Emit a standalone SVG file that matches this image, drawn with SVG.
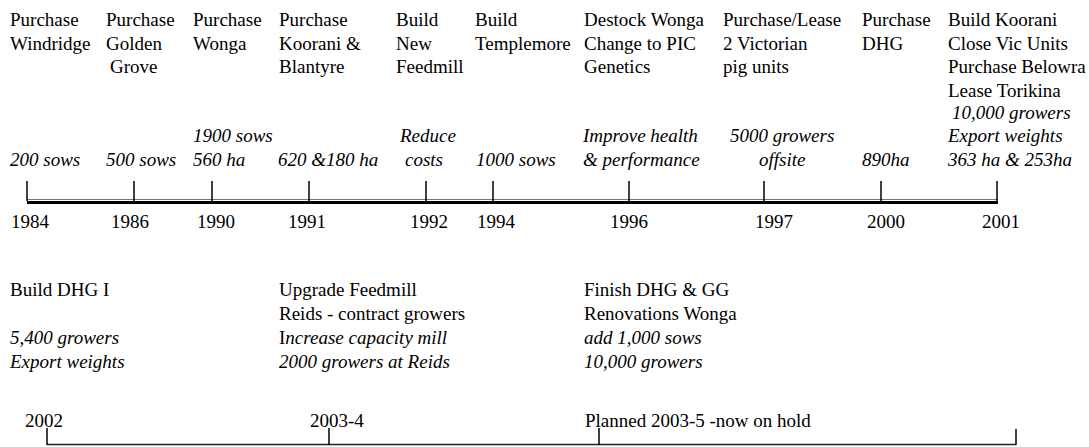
<svg xmlns="http://www.w3.org/2000/svg" width="1089" height="447" viewBox="0 0 1089 447">
<style>
text{font-family:'Liberation Serif',Tinos,'Times New Roman',Times,'DejaVu Serif',serif;font-size:19px;fill:#000}
.i{font-style:italic}
.tick{stroke:#000;stroke-width:1.5}
.axis{stroke:#000;stroke-width:3}
.axis2{stroke:#777;stroke-width:1}
.baxis{stroke:#222;stroke-width:1.5}
</style>
<rect width="1089" height="447" fill="#fff"/>
<g id="connectors">
<line class="axis2" x1="27" y1="199.5" x2="998" y2="199.5"/>
<line class="axis" x1="27" y1="202.5" x2="998" y2="202.5"/>
<line class="tick" x1="27" y1="181" x2="27" y2="201"/>
<line class="tick" x1="134" y1="181" x2="134" y2="201"/>
<line class="tick" x1="212" y1="181" x2="212" y2="201"/>
<line class="tick" x1="309" y1="181" x2="309" y2="201"/>
<line class="tick" x1="426" y1="181" x2="426" y2="201"/>
<line class="tick" x1="493" y1="181" x2="493" y2="201"/>
<line class="tick" x1="629" y1="181" x2="629" y2="201"/>
<line class="tick" x1="764" y1="181" x2="764" y2="201"/>
<line class="tick" x1="881" y1="181" x2="881" y2="201"/>
<line class="tick" x1="997" y1="181" x2="997" y2="204"/>
<line class="baxis" x1="47" y1="444.5" x2="1016" y2="444.5"/>
<line class="tick" x1="47" y1="428" x2="47" y2="445"/>
<line class="tick" x1="329" y1="428" x2="329" y2="445"/>
<line class="tick" x1="599" y1="428" x2="599" y2="445"/>
<line class="tick" x1="1016" y1="429" x2="1016" y2="445"/>
</g>
<g id="e1984">
<text x="10" y="26">Purchase</text><text x="10" y="50">Windridge</text>
<text class="i" x="10" y="166">200 sows</text>
<text x="11" y="228">1984</text>
</g>
<g id="e1986">
<text x="106" y="26">Purchase</text><text x="106" y="50">Golden</text><text x="110" y="73">Grove</text>
<text class="i" x="106" y="166">500 sows</text>
<text x="111" y="228">1986</text>
</g>
<g id="e1990">
<text x="193" y="26">Purchase</text><text x="193" y="50">Wonga</text>
<text class="i" x="193" y="142">1900 sows</text><text class="i" x="193" y="166">560 ha</text>
<text x="197" y="228">1990</text>
</g>
<g id="e1991">
<text x="279" y="26">Purchase</text><text x="279" y="50">Koorani &amp;</text><text x="279" y="73">Blantyre</text>
<text class="i" x="278" y="166">620 &amp;180 ha</text>
<text x="288" y="228">1991</text>
</g>
<g id="e1992">
<text x="396" y="26">Build</text><text x="396" y="50">New</text><text x="396" y="73">Feedmill</text>
<text class="i" x="400" y="142">Reduce</text><text class="i" x="405" y="166">costs</text>
<text x="410" y="228">1992</text>
</g>
<g id="e1994">
<text x="475" y="26">Build</text><text x="475" y="50">Templemore</text>
<text class="i" x="476" y="166">1000 sows</text>
<text x="477" y="228">1994</text>
</g>
<g id="e1996">
<text x="584" y="26">Destock Wonga</text><text x="584" y="50">Change to PIC</text><text x="584" y="73">Genetics</text>
<text class="i" x="583" y="142">Improve health</text><text class="i" x="583" y="166">&amp; performance</text>
<text x="610" y="228">1996</text>
</g>
<g id="e1997">
<text x="723" y="26">Purchase/Lease</text><text x="723" y="50">2 Victorian</text><text x="723" y="73">pig units</text>
<text class="i" x="730" y="142">5000 growers</text><text class="i" x="759" y="166">offsite</text>
<text x="755" y="228">1997</text>
</g>
<g id="e2000">
<text x="862" y="26">Purchase</text><text x="862" y="50">DHG</text>
<text class="i" x="862" y="166">890ha</text>
<text x="867" y="228">2000</text>
</g>
<g id="e2001">
<text x="948" y="26">Build Koorani</text><text x="948" y="50">Close Vic Units</text><text x="948" y="73">Purchase Belowra</text><text x="948" y="97">Lease Torikina</text>
<text class="i" x="952" y="119">10,000 growers</text>
<text class="i" x="948" y="142">Export weights</text><text class="i" x="948" y="166">363 ha &amp; 253ha</text>
<text x="982" y="228">2001</text>
</g>
<g id="e2002">
<text x="10" y="296">Build DHG I</text>
<text class="i" x="10" y="344">5,400 growers</text><text class="i" x="10" y="368">Export weights</text>
<text x="25" y="427">2002</text>
</g>
<g id="e2003">
<text x="279" y="296">Upgrade Feedmill</text><text x="279" y="320">Reids - contract growers</text>
<text x="279" y="344">I<tspan class="i">ncrease capacity mill</tspan></text>
<text class="i" x="279" y="368">2000 growers at Reids</text>
<text x="310" y="427">2003-4</text>
</g>
<g id="e2005">
<text x="584" y="296">Finish DHG &amp; GG</text><text x="584" y="320">Renovations Wonga</text>
<text class="i" x="584" y="344">add 1,000 sows</text><text class="i" x="584" y="368">10,000 growers</text>
<text x="585" y="427">Planned 2003-5 -now on hold</text>
</g>
</svg>
